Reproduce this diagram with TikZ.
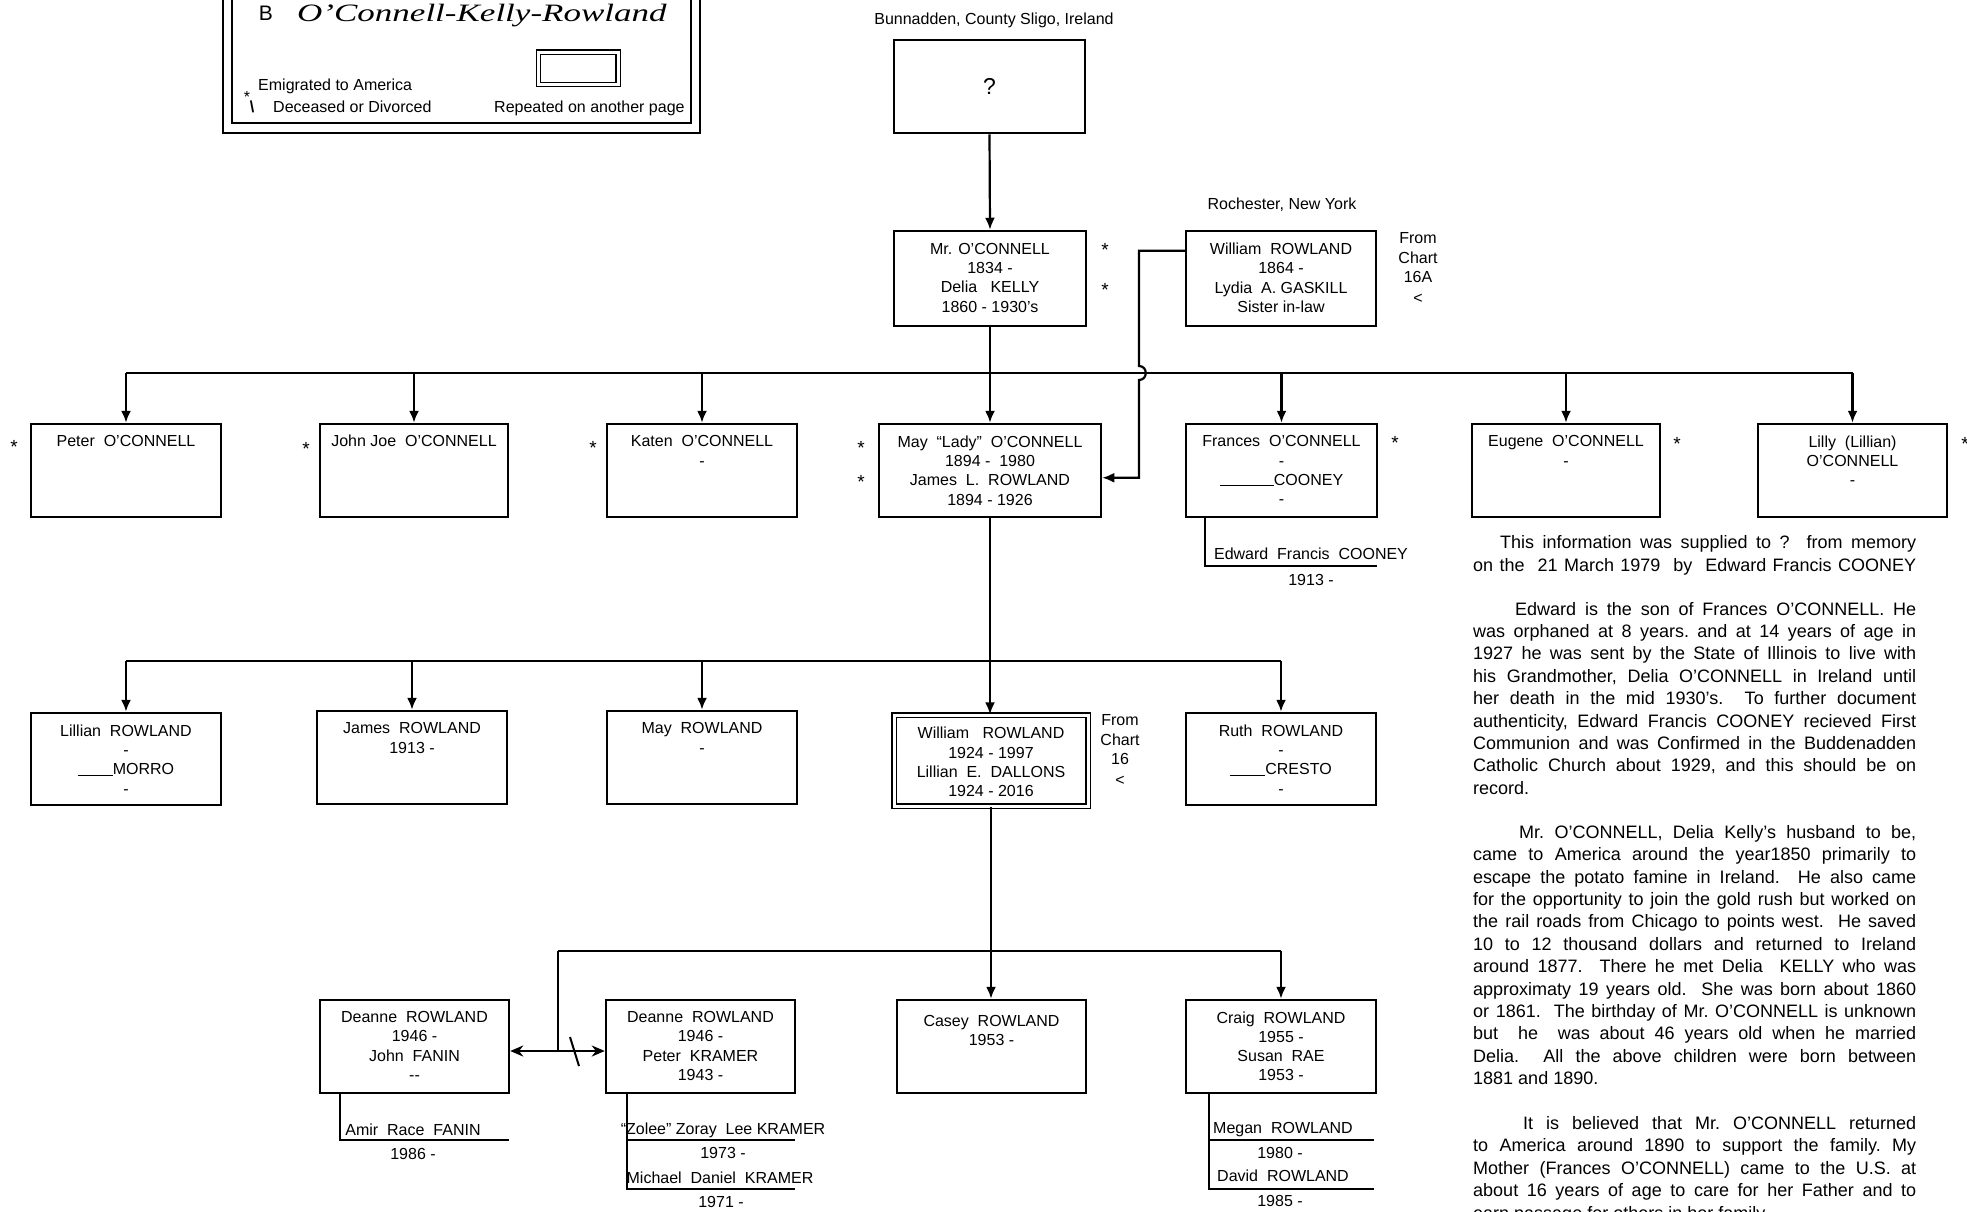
\documentclass[tikz,border=0pt]{standalone}
\usepackage{graphicx}
\usepackage{fontspec}
\setmainfont{Liberation Sans}
\newfontfamily\titlefont{Liberation Serif}
\usetikzlibrary{arrows.meta,calc}
\newcommand\boxfs{\fontsize{16}{19.3}\selectfont}
\newcommand\parfs{\fontsize{18}{22.4}\selectfont\frenchspacing}
\newcommand\jline[1]{\makebox[443pt][s]{\strut #1}}
\newcommand\lline[1]{\strut #1}
\newcommand\blank[1]{\rule[-1pt]{#1}{1pt}}
\begin{document}
\begin{tikzpicture}[x=1pt,y=-1pt,
  pbox/.style={draw,line width=2.5pt,inner sep=0pt,minimum width=190pt,minimum height=93pt},
  dbox/.style={draw,line width=1.2pt,double=white,double distance=3pt,inner sep=0pt},
  conn/.style={line width=2.2pt},
  arr/.style={conn,-{Latex[length=12pt,width=10pt]}},
  btxt/.style={font=\boxfs,align=center,inner sep=0pt,anchor=north,execute at begin node=\strut},
  lbl/.style={font=\boxfs,inner sep=0pt,anchor=base},
  star/.style={font=\fontsize{19}{19}\selectfont,inner sep=0pt},
  para/.style={inner sep=0pt,anchor=north west}
]
\fill[white] (0,0) rectangle (1967,1211);
\useasboundingbox (0,0) rectangle (1967,1211);

% ---------- legend ----------
\draw[line width=1.6pt] (223,-30) rectangle (700,133);
\draw[line width=2.5pt] (232,-30) rectangle (691,123);
\node[inner sep=0pt] (legB) at (266,13) {\fontsize{21}{21}\selectfont B};
\node[anchor=base west,inner sep=0pt] (legTitle) at (297,21)
  {\scalebox{1.4}[1]{\titlefont\itshape\fontsize{25}{25}\selectfont O’Connell-Kelly-Rowland}};
\node[dbox,minimum width=79.5pt,minimum height=32.5pt] (legRep) at (578.25,68.25) {};
\node[inner sep=0pt,font=\boxfs] (legStar) at (247,97) {*};
\node[anchor=base west,inner sep=0pt,font=\boxfs] (legEmi) at (258,90.7) {Emigrated to America};
\node[inner sep=0pt,font=\boxfs] (legBs) at (252,107) {\textbf{\textbackslash}};
\node[anchor=base west,inner sep=0pt,font=\boxfs] (legDec) at (273,112.7) {Deceased or Divorced};
\node[anchor=base west,inner sep=0pt,font=\boxfs] (legRepT) at (494,112.7) {Repeated on another page};

% ---------- generation 0 ----------
\node[lbl] (bunn) at (994,24.7) {Bunnadden, County Sligo, Ireland};
\node[pbox,minimum width=191pt] (qbox) at (989.5,86.5) {};
\node[inner sep=0pt,font=\fontsize{23}{23}\selectfont] (qboxT) at (qbox.center) {?};

% ---------- generation 1 ----------
\node[pbox,minimum width=192pt,minimum height=95pt] (mro) at (990,278.5) {};
\node[btxt] (mroT) at ($(mro.north)+(0,13)$) {Mr. O’CONNELL\\1834 -\\Delia~~~KELLY\\1860 - 1930’s};
\node[star] (s1) at (1105,250) {*};
\node[star] (s2) at (1105,290) {*};

\node[lbl] (roch) at (1282,209.7) {Rochester, New York};
\node[pbox,minimum height=95pt] (wr) at (1281,278.5) {};
\node[btxt] (wrT) at ($(wr.north)+(0,13)$) {William~~ROWLAND\\1864 -\\Lydia~~A. GASKILL\\Sister in-law};
\node[btxt] (fc1) at (1418,232.7) {From\\Chart\\16A\\[2pt]<};

% ---------- generation 2 ----------
\node[pbox] (peter) at (126,470.5) {};
\node[btxt] (peterT) at ($(peter.north)+(0,10.5)$) {Peter~~O’CONNELL};
\node[pbox,minimum width=188pt] (john) at (414,470.5) {};
\node[btxt] (johnT) at ($(john.north)+(0,10.5)$) {John Joe~~O’CONNELL};
\node[pbox] (katen) at (702,470.5) {};
\node[btxt] (katenT) at ($(katen.north)+(0,12.7)$) {Katen~~O’CONNELL\\-};
\node[pbox,minimum width=222pt] (may) at (990,470.5) {};
\node[btxt] (mayT) at ($(may.north)+(0,12.7)$) {May~~“Lady”~~O’CONNELL\\1894 -~~1980\\James~~L.~~ROWLAND\\1894 - 1926};
\node[pbox,minimum width=191pt] (frances) at (1281.5,470.5) {};
\node[btxt] (francesT) at ($(frances.north)+(0,12.7)$) {Frances~~O’CONNELL\\-\\\blank{54pt}COONEY\\-};
\node[pbox,minimum width=188pt] (eugene) at (1566,470.5) {};
\node[btxt] (eugeneT) at ($(eugene.north)+(0,12.7)$) {Eugene~~O’CONNELL\\-};
\node[pbox,minimum width=189pt] (lilly) at (1852.5,470.5) {};
\node[btxt] (lillyT) at ($(lilly.north)+(0,12.7)$) {Lilly~~(Lillian)\\O’CONNELL\\-};

\node[star] (s3) at (14,447) {*};
\node[star] (s4) at (306,449) {*};
\node[star] (s5) at (593,448) {*};
\node[star] (s6) at (861,448) {*};
\node[star] (s7) at (861,482) {*};
\node[star] (s8) at (1395,443) {*};
\node[star] (s9) at (1677,444) {*};
\node[star] (s10) at (1965,444) {*};

\node[lbl] (edw) at (1311,559.7) {Edward~~Francis~~COONEY};
\node[lbl] (edwY) at (1311,585.7) {1913 -};

% ---------- generation 3 ----------
\node[pbox,minimum height=92pt] (lillian) at (126,759) {};
\node[btxt] (lillianT) at ($(lillian.north)+(0,12.7)$) {Lillian~~ROWLAND\\-\\\blank{35pt}MORRO\\-};
\node[pbox,minimum height=93pt] (james) at (412,757.5) {};
\node[btxt] (jamesT) at ($(james.north)+(0,12.7)$) {James~~ROWLAND\\1913 -};
\node[pbox,minimum height=93pt] (mayr) at (702,757.5) {};
\node[btxt] (mayrT) at ($(mayr.north)+(0,12.7)$) {May~~ROWLAND\\-};
\node[dbox,minimum width=194pt,minimum height=91pt] (william) at (991,760.5) {};
\node[btxt] (williamT) at ($(william.north)+(0,12.5)$) {William~~~ROWLAND\\1924 - 1997\\Lillian~~E.~~DALLONS\\1924 - 2016};
\node[btxt] (fc2) at (1120,714.7) {From\\Chart\\16\\[2pt]<};
\node[pbox,minimum height=92pt] (ruth) at (1281,759) {};
\node[btxt] (ruthT) at ($(ruth.north)+(0,12.7)$) {Ruth~~ROWLAND\\-\\\blank{35pt}CRESTO\\-};

% ---------- generation 4 ----------
\node[pbox,minimum width=189pt] (deanne1) at (414.5,1046.5) {};
\node[btxt] (deanne1T) at ($(deanne1.north)+(0,12.5)$) {Deanne~~ROWLAND\\1946 -\\John~~FANIN\\-{}-};
\node[pbox,minimum width=189pt] (deanne2) at (700.5,1046.5) {};
\node[btxt] (deanne2T) at ($(deanne2.north)+(0,12.5)$) {Deanne~~ROWLAND\\1946 -\\Peter~~KRAMER\\1943 -};
\node[pbox,minimum width=189pt] (casey) at (991.5,1046.5) {};
\node[btxt] (caseyT) at ($(casey.north)+(0,16)$) {Casey~~ROWLAND\\1953 -};
\node[pbox] (craig) at (1281,1046.5) {};
\node[btxt] (craigT) at ($(craig.north)+(0,12.5)$) {Craig~~ROWLAND\\1955 -\\Susan~~RAE\\1953 -};

\node[lbl] (amir) at (413,1135.7) {Amir~~Race~~FANIN};
\node[lbl] (amirY) at (413,1159.7) {1986 -};
\node[lbl] (zolee) at (723,1134.7) {“Zolee” Zoray~~Lee KRAMER};
\node[lbl] (zoleeY) at (723,1158.7) {1973 -};
\node[lbl] (mich) at (720,1183.7) {Michael~~Daniel~~KRAMER};
\node[lbl] (michY) at (721,1207.7) {1971 -};
\node[lbl] (megan) at (1283,1133.7) {Megan~~ROWLAND};
\node[lbl] (meganY) at (1280,1158.7) {1980 -};
\node[lbl] (david) at (1283,1181.7) {David~~ROWLAND};
\node[lbl] (davidY) at (1280,1206.7) {1985 -};

% ---------- connectors ----------
\draw[arr] (qbox.south) -- (mro.north);
\draw[arr] (mro.south) -- (may.north);
\coordinate (b1) at (0,373);
\draw[conn] (peter.north |- b1) -- (lilly.north |- b1);
\foreach \n in {peter,john,katen,frances,eugene,lilly}
  \draw[arr] (\n.north |- b1) -- (\n.north);

\coordinate (wrc) at ($(wr.north west)+(0,21)$);
\coordinate (hopx) at (1139,373);
\coordinate (mayin) at ($(may.north east)+(0,55)$);
\draw[arr] (wrc) -- (wrc -| hopx) -- ($(hopx)+(0,-7)$)
  .. controls ($(hopx)+(9,-7)$) and ($(hopx)+(9,7)$) .. ($(hopx)+(0,7)$)
  -- (hopx |- mayin) -- (mayin);

\coordinate (b2) at (0,661);
\draw[conn] (lillian.north |- b2) -- (ruth.north |- b2);
\foreach \n in {lillian,james,mayr,ruth}
  \draw[arr] (\n.north |- b2) -- (\n.north);
\draw[arr] (may.south) -- (may.south |- william.north);

\coordinate (b3l) at (558,951);
\draw[conn] (b3l) -- (craig.north |- b3l);
\draw[arr] (william.south) -- (william.south |- casey.north);
\draw[arr] (craig.north |- b3l) -- (craig.north);
\coordinate (dv) at (558,1051);
\draw[conn] (b3l) -- (dv);
\draw[conn,{Stealth[length=13pt,width=11pt]}-{Stealth[length=13pt,width=11pt]}] (deanne1.east |- dv) -- (deanne2.west |- dv);
\draw[line width=2pt] (570,1037) -- (579,1066);

% children lines
\coordinate (fv) at ($(frances.south west)+(20,0)$);
\coordinate (fk) at (1377,566);
\draw[conn] (fv) |- (fk);
\coordinate (d1v) at ($(deanne1.south west)+(21,0)$);
\coordinate (d1k) at (509,1140);
\draw[conn] (d1v) |- (d1k);
\coordinate (d2v) at ($(deanne2.south west)+(22.5,0)$);
\coordinate (d2k1) at (795,1140);
\coordinate (d2k2) at (795,1189);
\draw[conn] (d2v) |- (d2k2);
\draw[conn] (d2v |- d2k1) -- (d2k1);
\coordinate (cv) at ($(craig.south west)+(24.6,0)$);
\coordinate (ck1) at (1374,1140);
\coordinate (ck2) at (1374,1189);
\draw[conn] (cv) |- (ck2);
\draw[conn] (cv |- ck1) -- (ck1);

% ---------- notes ----------
\node[para] (p1) at (1473,532.8) {\parbox[t]{443pt}{\parfs\noindent
\jline{\hspace*{27pt}This information was supplied to ?~~from memory}\\
\jline{on the~~21 March 1979~~by~~Edward Francis COONEY}}};

\node[para] (p2) at (1473,599.2) {\parbox[t]{443pt}{\parfs\noindent
\jline{\hspace*{42pt}Edward is the son of Frances O’CONNELL. He}\\
\jline{was orphaned at 8 years. and at 14 years of age in}\\
\jline{1927 he was sent by the State of Illinois to live with}\\
\jline{his Grandmother, Delia O’CONNELL in Ireland until}\\
\jline{her death in the mid 1930’s.~~To further document}\\
\jline{authenticity, Edward Francis COONEY recieved First}\\
\jline{Communion and was Confirmed in the Buddenadden}\\
\jline{Catholic Church about 1929, and this should be on}\\
\lline{record.}}};

\node[para] (p3) at (1473,822.5) {\parbox[t]{443pt}{\parfs\noindent
\jline{\hspace*{46pt}Mr. O’CONNELL, Delia Kelly’s husband to be,}\\
\jline{came to America around the year1850 primarily to}\\
\jline{escape the potato famine in Ireland.~~He also came}\\
\jline{for the opportunity to join the gold rush but worked on}\\
\jline{the rail roads from Chicago to points west.~~He saved}\\
\jline{10 to 12 thousand dollars and returned to Ireland}\\
\jline{around 1877.~~There he met Delia~~KELLY who was}\\
\jline{approximaty 19 years old.~~She was born about 1860}\\
\jline{or 1861.~~The birthday of Mr. O’CONNELL is unknown}\\
\jline{but~~he~~was about 46 years old when he married}\\
\jline{Delia.~~All the above children were born between}\\
\lline{1881 and 1890.}}};

\node[para] (p4) at (1473,1113.6) {\parbox[t]{443pt}{\parfs\noindent
\jline{\hspace*{50pt}It is believed that Mr. O’CONNELL returned}\\
\jline{to America around 1890 to support the family. My}\\
\jline{Mother (Frances O’CONNELL) came to the U.S. at}\\
\jline{about 16 years of age to care for her Father and to}\\
\lline{earn passage for others in her family.}}};
\end{tikzpicture}
\end{document}
